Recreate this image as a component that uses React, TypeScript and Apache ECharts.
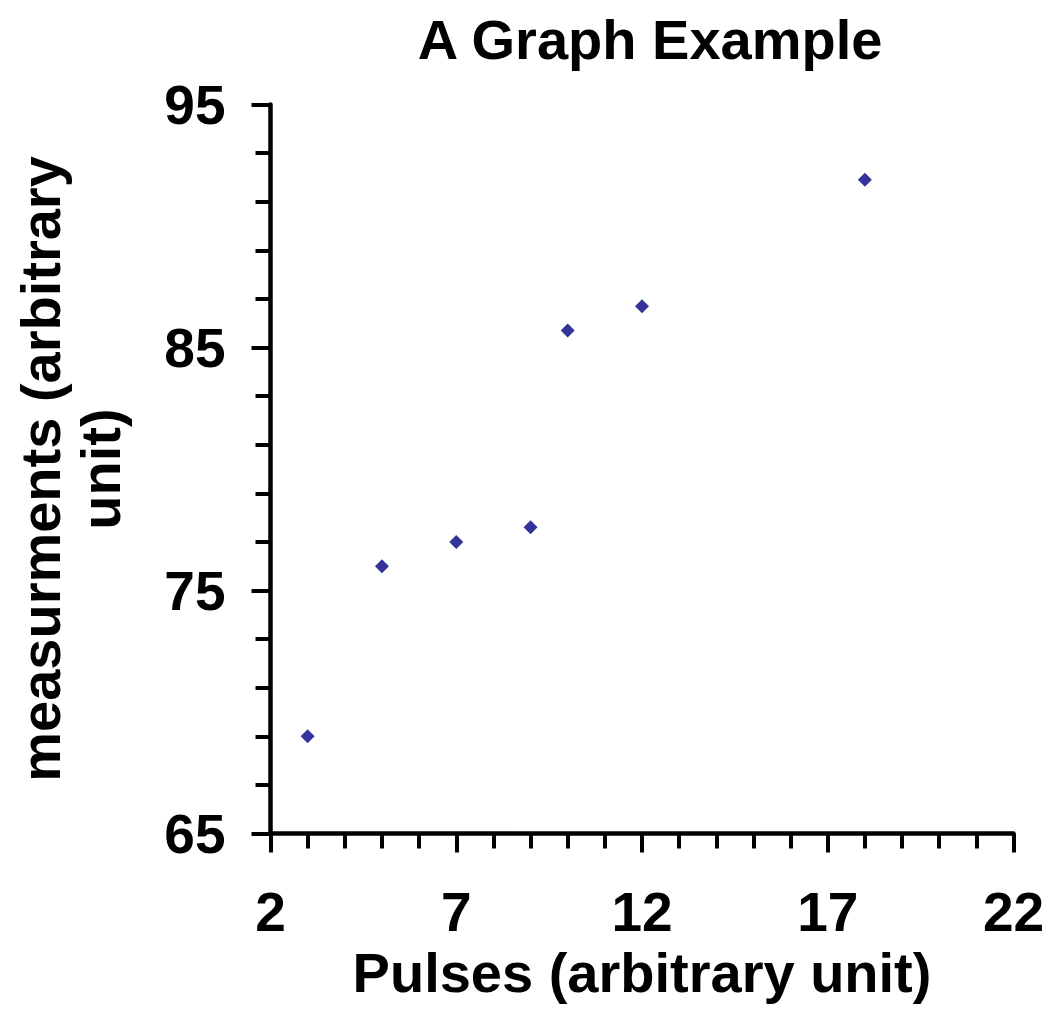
import React, { useEffect, useRef } from "react";
import * as echarts from "echarts";

const titleText = "A Graph Example";
const xAxisName = "Pulses (arbitrary unit)";
const yAxisName = "measurments (arbitrary\nunit)";
const pulses = [3, 5, 7, 9, 10, 12, 18];
const measurements = [69, 76, 77, 77.6, 85.7, 86.7, 91.9];
const xMin = 2, xMax = 22, xStep = 5;
const yMin = 65, yMax = 95, yStep = 10;

const FONT = "'Liberation Sans', Arial, sans-serif";

export default function App() {
  const ref = useRef<HTMLDivElement>(null);
  useEffect(() => {
    document.body.style.margin = "0";
    const chart = echarts.init(ref.current!, null, { renderer: "svg" });
    const data = pulses.map((p, i) => [p, measurements[i]]);
    chart.setOption({
      animation: false,
      backgroundColor: "#ffffff",
      textStyle: { fontFamily: FONT },
      graphic: [
        {
          type: "text",
          x: 650,
          y: 11,
          style: {
            text: titleText,
            fontFamily: FONT,
            fontWeight: "bold",
            fontSize: 56,
            fill: "#000",
            textAlign: "center",
            textVerticalAlign: "top",
          },
        },
      ],
      grid: { left: 270.5, right: 39.5, top: 104.5, bottom: 184.5, containLabel: false },
      xAxis: {
        type: "value",
        min: xMin,
        max: xMax,
        interval: xStep,
        name: xAxisName,
        nameLocation: "middle",
        nameGap: 111,
        nameTextStyle: { fontFamily: FONT, fontWeight: "bold", fontSize: 56, color: "#000" },
        axisLine: { lineStyle: { color: "#000", width: 4.5 } },
        axisTick: { show: true, length: 19, lineStyle: { color: "#000", width: 4 } },
        minorTick: { show: true, splitNumber: 5, length: 15, lineStyle: { color: "#000", width: 4 } },
        splitLine: { show: false },
        axisLabel: { fontFamily: FONT, fontWeight: "bold", fontSize: 55, color: "#000", margin: 51 },
      },
      yAxis: {
        type: "value",
        min: yMin,
        max: yMax,
        interval: yStep,
        name: yAxisName,
        nameLocation: "middle",
        nameGap: 140,
        nameTextStyle: { fontFamily: FONT, fontWeight: "bold", fontSize: 56, color: "#000", lineHeight: 60, align: "center" },
        axisLine: { lineStyle: { color: "#000", width: 4.5 } },
        axisTick: { show: true, length: 19, lineStyle: { color: "#000", width: 4 } },
        minorTick: { show: true, splitNumber: 5, length: 15, lineStyle: { color: "#000", width: 4 } },
        splitLine: { show: false },
        axisLabel: { fontFamily: FONT, fontWeight: "bold", fontSize: 55, color: "#000", margin: 45 },
      },
      series: [
        {
          type: "scatter",
          data,
          symbol: "diamond",
          symbolSize: 14,
          itemStyle: { color: "#000080" },
        },
      ],
    });
    return () => chart.dispose();
  }, []);
  return <div ref={ref} style={{ width: 1053, height: 1018 }} />;
}
